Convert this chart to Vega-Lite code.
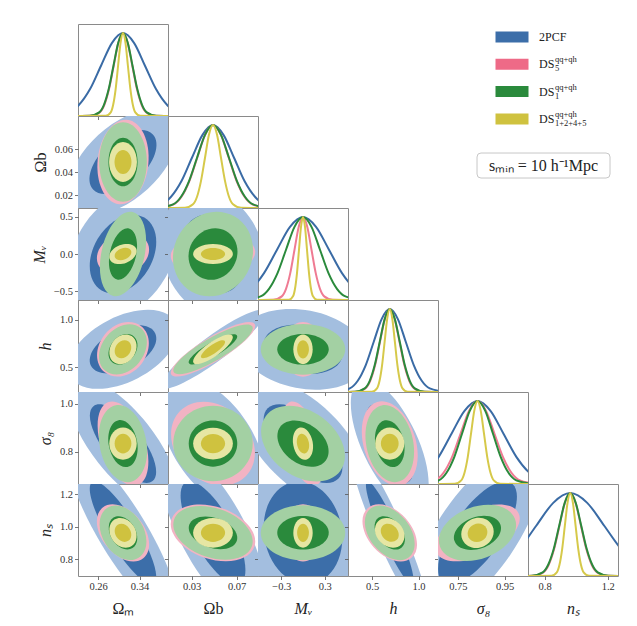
{
"$schema":"https://vega.github.io/schema/vega-lite/v6.json",
"background":"white",
"padding":{"left":30,"top":23,"right":5,"bottom":5},
"spacing":0,
"bounds":"flush",
"columns":6,
"config":{
 "view":{"stroke":"#8a8a8a","strokeWidth":1},
 "axis":{"grid":false,"domain":false,"tickColor":"#555","tickSize":3.5,"tickWidth":0.8,"labelFont":"Liberation Serif","labelFontSize":10.5,"labelColor":"#333","labelPadding":2,"titleFont":"Liberation Serif","titleFontSize":16,"titleFontWeight":"normal","titleFontStyle":"italic","titleColor":"#222"},
 "axisX":{"titlePadding":8},
 "axisY":{"titlePadding":6},
 "range":{"symbol":["M-1,0A1,0.15,0,1,1,1,0A1,0.15,0,1,1,-1,0Z","M-1,0A1,0.2,0,1,1,1,0A1,0.2,0,1,1,-1,0Z","M-1,0A1,0.25,0,1,1,1,0A1,0.25,0,1,1,-1,0Z","M-1,0A1,0.3,0,1,1,1,0A1,0.3,0,1,1,-1,0Z","M-1,0A1,0.35,0,1,1,1,0A1,0.35,0,1,1,-1,0Z","M-1,0A1,0.4,0,1,1,1,0A1,0.4,0,1,1,-1,0Z","M-1,0A1,0.45,0,1,1,1,0A1,0.45,0,1,1,-1,0Z","M-1,0A1,0.5,0,1,1,1,0A1,0.5,0,1,1,-1,0Z","M-1,0A1,0.55,0,1,1,1,0A1,0.55,0,1,1,-1,0Z","M-1,0A1,0.6,0,1,1,1,0A1,0.6,0,1,1,-1,0Z","M-1,0A1,0.65,0,1,1,1,0A1,0.65,0,1,1,-1,0Z","M-1,0A1,0.7,0,1,1,1,0A1,0.7,0,1,1,-1,0Z","M-1,0A1,0.75,0,1,1,1,0A1,0.75,0,1,1,-1,0Z","M-1,0A1,0.8,0,1,1,1,0A1,0.8,0,1,1,-1,0Z","M-1,0A1,0.85,0,1,1,1,0A1,0.85,0,1,1,-1,0Z","M-1,0A1,0.9,0,1,1,1,0A1,0.9,0,1,1,-1,0Z","M-1,0A1,0.95,0,1,1,1,0A1,0.95,0,1,1,-1,0Z"]}
},
"datasets":{
"leg":[
 {"item":"a","k":"2PCF 68%","main":"2PCF","sub":"","sup":""},
 {"item":"b","k":"DS5 68%","main":"DS","sub":"5","sup":"qq+qh"},
 {"item":"c","k":"DS1 68%","main":"DS","sub":"1","sup":"qq+qh"},
 {"item":"d","k":"DSc 68%","main":"DS","sub":"1+2+4+5","sup":"qq+qh"}
],
"blank":[{"b":1}],
"ell":[
 {"p":"r1c0","k":"2PCF 95%","x":0.308,"y":0.049,"len":1.479,"ar":0.55,"ang":-42.6},
 {"p":"r1c0","k":"2PCF 68%","x":0.308,"y":0.049,"len":0.902,"ar":0.55,"ang":-42.6},
 {"p":"r1c0","k":"DS5 95%","x":0.308,"y":0.049,"len":0.941,"ar":0.6,"ang":-84.4},
 {"p":"r1c0","k":"DS5 68%","x":0.308,"y":0.049,"len":0.574,"ar":0.6,"ang":-84.4},
 {"p":"r1c0","k":"DS1 95%","x":0.308,"y":0.049,"len":0.883,"ar":0.6,"ang":-90},
 {"p":"r1c0","k":"DS1 68%","x":0.308,"y":0.049,"len":0.539,"ar":0.6,"ang":-90},
 {"p":"r1c0","k":"DSc 95%","x":0.308,"y":0.049,"len":0.442,"ar":0.7,"ang":-90},
 {"p":"r1c0","k":"DSc 68%","x":0.308,"y":0.049,"len":0.269,"ar":0.7,"ang":-90},
 {"p":"r2c0","k":"2PCF 95%","x":0.308,"y":0,"len":1.539,"ar":0.7,"ang":-59.6},
 {"p":"r2c0","k":"2PCF 68%","x":0.308,"y":0,"len":0.938,"ar":0.7,"ang":-59.6},
 {"p":"r2c0","k":"DS5 95%","x":0.308,"y":0,"len":0.598,"ar":0.75,"ang":-21.6},
 {"p":"r2c0","k":"DS5 68%","x":0.308,"y":0,"len":0.364,"ar":0.75,"ang":-21.6},
 {"p":"r2c0","k":"DS1 95%","x":0.308,"y":0,"len":0.957,"ar":0.5,"ang":-77},
 {"p":"r2c0","k":"DS1 68%","x":0.308,"y":0,"len":0.583,"ar":0.5,"ang":-77},
 {"p":"r2c0","k":"DSc 95%","x":0.308,"y":0,"len":0.317,"ar":0.65,"ang":-21.4},
 {"p":"r2c0","k":"DSc 68%","x":0.308,"y":0,"len":0.193,"ar":0.65,"ang":-21.4},
 {"p":"r2c1","k":"2PCF 95%","x":0.049,"y":0,"len":1.481,"ar":0.75,"ang":68.6},
 {"p":"r2c1","k":"2PCF 68%","x":0.049,"y":0,"len":0.902,"ar":0.75,"ang":68.6},
 {"p":"r2c1","k":"DS5 95%","x":0.049,"y":0,"len":0.94,"ar":0.5,"ang":-3.8},
 {"p":"r2c1","k":"DS5 68%","x":0.049,"y":0,"len":0.573,"ar":0.5,"ang":-3.8},
 {"p":"r2c1","k":"DS1 95%","x":0.049,"y":0,"len":0.963,"ar":0.9,"ang":-60.6},
 {"p":"r2c1","k":"DS1 68%","x":0.049,"y":0,"len":0.588,"ar":0.9,"ang":-60.6},
 {"p":"r2c1","k":"DSc 95%","x":0.049,"y":0,"len":0.442,"ar":0.5,"ang":0},
 {"p":"r2c1","k":"DSc 68%","x":0.049,"y":0,"len":0.269,"ar":0.5,"ang":0},
 {"p":"r3c0","k":"2PCF 95%","x":0.308,"y":0.69,"len":1.313,"ar":0.55,"ang":-27.1},
 {"p":"r3c0","k":"2PCF 68%","x":0.308,"y":0.69,"len":0.8,"ar":0.55,"ang":-27.1},
 {"p":"r3c0","k":"DS5 95%","x":0.308,"y":0.69,"len":0.652,"ar":0.8,"ang":-51.6},
 {"p":"r3c0","k":"DS5 68%","x":0.308,"y":0.69,"len":0.398,"ar":0.8,"ang":-51.6},
 {"p":"r3c0","k":"DS1 95%","x":0.308,"y":0.69,"len":0.616,"ar":0.75,"ang":-49.9},
 {"p":"r3c0","k":"DS1 68%","x":0.308,"y":0.69,"len":0.374,"ar":0.75,"ang":-49.9},
 {"p":"r3c0","k":"DSc 95%","x":0.308,"y":0.69,"len":0.351,"ar":0.8,"ang":-56.8},
 {"p":"r3c0","k":"DSc 68%","x":0.308,"y":0.69,"len":0.213,"ar":0.8,"ang":-56.8},
 {"p":"r3c1","k":"2PCF 95%","x":0.049,"y":0.69,"len":1.423,"ar":0.2,"ang":-36.5},
 {"p":"r3c1","k":"2PCF 68%","x":0.049,"y":0.69,"len":0.868,"ar":0.2,"ang":-36.5},
 {"p":"r3c1","k":"DS5 95%","x":0.049,"y":0.69,"len":1.083,"ar":0.25,"ang":-31.1},
 {"p":"r3c1","k":"DS5 68%","x":0.049,"y":0.69,"len":0.66,"ar":0.25,"ang":-31.1},
 {"p":"r3c1","k":"DS1 95%","x":0.049,"y":0.69,"len":1.01,"ar":0.25,"ang":-30.1},
 {"p":"r3c1","k":"DS1 68%","x":0.049,"y":0.69,"len":0.616,"ar":0.25,"ang":-30.1},
 {"p":"r3c1","k":"DSc 95%","x":0.049,"y":0.69,"len":0.527,"ar":0.3,"ang":-35},
 {"p":"r3c1","k":"DSc 68%","x":0.049,"y":0.69,"len":0.321,"ar":0.3,"ang":-35},
 {"p":"r3c2","k":"2PCF 95%","x":0,"y":0.69,"len":1.452,"ar":0.6,"ang":10.8},
 {"p":"r3c2","k":"2PCF 68%","x":0,"y":0.69,"len":0.886,"ar":0.6,"ang":10.8},
 {"p":"r3c2","k":"DS5 95%","x":0,"y":0.69,"len":0.608,"ar":0.75,"ang":-90},
 {"p":"r3c2","k":"DS5 68%","x":0,"y":0.69,"len":0.37,"ar":0.75,"ang":-90},
 {"p":"r3c2","k":"DS1 95%","x":0,"y":0.69,"len":0.939,"ar":0.6,"ang":0},
 {"p":"r3c2","k":"DS1 68%","x":0,"y":0.69,"len":0.572,"ar":0.6,"ang":0},
 {"p":"r3c2","k":"DSc 95%","x":0,"y":0.69,"len":0.331,"ar":0.65,"ang":-90},
 {"p":"r3c2","k":"DSc 68%","x":0,"y":0.69,"len":0.202,"ar":0.65,"ang":-90},
 {"p":"r4c0","k":"2PCF 95%","x":0.308,"y":0.834,"len":1.739,"ar":0.4,"ang":51.7},
 {"p":"r4c0","k":"2PCF 68%","x":0.308,"y":0.834,"len":1.06,"ar":0.4,"ang":51.7},
 {"p":"r4c0","k":"DS5 95%","x":0.308,"y":0.834,"len":0.979,"ar":0.5,"ang":70.7},
 {"p":"r4c0","k":"DS5 68%","x":0.308,"y":0.834,"len":0.597,"ar":0.5,"ang":70.7},
 {"p":"r4c0","k":"DS1 95%","x":0.308,"y":0.834,"len":0.866,"ar":0.6,"ang":79.3},
 {"p":"r4c0","k":"DS1 68%","x":0.308,"y":0.834,"len":0.528,"ar":0.6,"ang":79.3},
 {"p":"r4c0","k":"DSc 95%","x":0.308,"y":0.834,"len":0.359,"ar":0.85,"ang":-90},
 {"p":"r4c0","k":"DSc 68%","x":0.308,"y":0.834,"len":0.219,"ar":0.85,"ang":-90},
 {"p":"r4c1","k":"2PCF 95%","x":0.049,"y":0.834,"len":1.616,"ar":0.55,"ang":56.7},
 {"p":"r4c1","k":"2PCF 68%","x":0.049,"y":0.834,"len":0.984,"ar":0.55,"ang":56.7},
 {"p":"r4c1","k":"DS5 95%","x":0.049,"y":0.834,"len":1.029,"ar":0.8,"ang":45},
 {"p":"r4c1","k":"DS5 68%","x":0.049,"y":0.834,"len":0.627,"ar":0.8,"ang":45},
 {"p":"r4c1","k":"DS1 95%","x":0.049,"y":0.834,"len":0.883,"ar":0.95,"ang":0},
 {"p":"r4c1","k":"DS1 68%","x":0.049,"y":0.834,"len":0.539,"ar":0.95,"ang":0},
 {"p":"r4c1","k":"DSc 95%","x":0.049,"y":0.834,"len":0.442,"ar":0.8,"ang":0},
 {"p":"r4c1","k":"DSc 68%","x":0.049,"y":0.834,"len":0.269,"ar":0.8,"ang":0},
 {"p":"r4c2","k":"2PCF 95%","x":0,"y":0.834,"len":1.817,"ar":0.5,"ang":45},
 {"p":"r4c2","k":"2PCF 68%","x":0,"y":0.834,"len":1.108,"ar":0.5,"ang":45},
 {"p":"r4c2","k":"DS5 95%","x":0,"y":0.834,"len":0.973,"ar":0.4,"ang":73.2},
 {"p":"r4c2","k":"DS5 68%","x":0,"y":0.834,"len":0.593,"ar":0.4,"ang":73.2},
 {"p":"r4c2","k":"DS1 95%","x":0,"y":0.834,"len":1.029,"ar":0.7,"ang":36.4},
 {"p":"r4c2","k":"DS1 68%","x":0,"y":0.834,"len":0.628,"ar":0.7,"ang":36.4},
 {"p":"r4c2","k":"DSc 95%","x":0,"y":0.834,"len":0.363,"ar":0.6,"ang":79.2},
 {"p":"r4c2","k":"DSc 68%","x":0,"y":0.834,"len":0.221,"ar":0.6,"ang":79.2},
 {"p":"r4c3","k":"2PCF 95%","x":0.69,"y":0.834,"len":1.554,"ar":0.4,"ang":65},
 {"p":"r4c3","k":"2PCF 68%","x":0.69,"y":0.834,"len":0.948,"ar":0.4,"ang":65},
 {"p":"r4c3","k":"DS5 95%","x":0.69,"y":0.834,"len":0.966,"ar":0.6,"ang":73.1},
 {"p":"r4c3","k":"DS5 68%","x":0.69,"y":0.834,"len":0.589,"ar":0.6,"ang":73.1},
 {"p":"r4c3","k":"DS1 95%","x":0.69,"y":0.834,"len":0.868,"ar":0.6,"ang":78.1},
 {"p":"r4c3","k":"DS1 68%","x":0.69,"y":0.834,"len":0.529,"ar":0.6,"ang":78.1},
 {"p":"r4c3","k":"DSc 95%","x":0.69,"y":0.834,"len":0.359,"ar":0.9,"ang":-90},
 {"p":"r4c3","k":"DSc 68%","x":0.69,"y":0.834,"len":0.219,"ar":0.9,"ang":-90},
 {"p":"r5c0","k":"2PCF 95%","x":0.308,"y":0.9624,"len":2.167,"ar":0.25,"ang":58.9},
 {"p":"r5c0","k":"2PCF 68%","x":0.308,"y":0.9624,"len":1.321,"ar":0.25,"ang":58.9},
 {"p":"r5c0","k":"DS5 95%","x":0.308,"y":0.9624,"len":0.722,"ar":0.65,"ang":51.4},
 {"p":"r5c0","k":"DS5 68%","x":0.308,"y":0.9624,"len":0.44,"ar":0.65,"ang":51.4},
 {"p":"r5c0","k":"DS1 95%","x":0.308,"y":0.9624,"len":0.654,"ar":0.7,"ang":58.1},
 {"p":"r5c0","k":"DS1 68%","x":0.308,"y":0.9624,"len":0.399,"ar":0.7,"ang":58.1},
 {"p":"r5c0","k":"DSc 95%","x":0.308,"y":0.9624,"len":0.351,"ar":0.8,"ang":56.8},
 {"p":"r5c0","k":"DSc 68%","x":0.308,"y":0.9624,"len":0.213,"ar":0.8,"ang":56.8},
 {"p":"r5c1","k":"2PCF 95%","x":0.049,"y":0.9624,"len":2.098,"ar":0.35,"ang":61.9},
 {"p":"r5c1","k":"2PCF 68%","x":0.049,"y":0.9624,"len":1.279,"ar":0.35,"ang":61.9},
 {"p":"r5c1","k":"DS5 95%","x":0.049,"y":0.9624,"len":0.97,"ar":0.6,"ang":18.4},
 {"p":"r5c1","k":"DS5 68%","x":0.049,"y":0.9624,"len":0.591,"ar":0.6,"ang":18.4},
 {"p":"r5c1","k":"DS1 95%","x":0.049,"y":0.9624,"len":0.914,"ar":0.6,"ang":19},
 {"p":"r5c1","k":"DS1 68%","x":0.049,"y":0.9624,"len":0.558,"ar":0.6,"ang":19},
 {"p":"r5c1","k":"DSc 95%","x":0.049,"y":0.9624,"len":0.442,"ar":0.75,"ang":0},
 {"p":"r5c1","k":"DSc 68%","x":0.049,"y":0.9624,"len":0.269,"ar":0.75,"ang":0},
 {"p":"r5c2","k":"2PCF 95%","x":0,"y":0.9624,"len":1.89,"ar":0.75,"ang":79.9},
 {"p":"r5c2","k":"2PCF 68%","x":0,"y":0.9624,"len":1.152,"ar":0.75,"ang":79.9},
 {"p":"r5c2","k":"DS5 95%","x":0,"y":0.9624,"len":0.636,"ar":0.75,"ang":-90},
 {"p":"r5c2","k":"DS5 68%","x":0,"y":0.9624,"len":0.387,"ar":0.75,"ang":-90},
 {"p":"r5c2","k":"DS1 95%","x":0,"y":0.9624,"len":0.939,"ar":0.65,"ang":0},
 {"p":"r5c2","k":"DS1 68%","x":0,"y":0.9624,"len":0.572,"ar":0.65,"ang":0},
 {"p":"r5c2","k":"DSc 95%","x":0,"y":0.9624,"len":0.331,"ar":0.65,"ang":-90},
 {"p":"r5c2","k":"DSc 68%","x":0,"y":0.9624,"len":0.202,"ar":0.65,"ang":-90},
 {"p":"r5c3","k":"2PCF 95%","x":0.69,"y":0.9624,"len":2.044,"ar":0.15,"ang":66.3},
 {"p":"r5c3","k":"2PCF 68%","x":0.69,"y":0.9624,"len":1.247,"ar":0.15,"ang":66.3},
 {"p":"r5c3","k":"DS5 95%","x":0.69,"y":0.9624,"len":0.736,"ar":0.65,"ang":48.2},
 {"p":"r5c3","k":"DS5 68%","x":0.69,"y":0.9624,"len":0.449,"ar":0.65,"ang":48.2},
 {"p":"r5c3","k":"DS1 95%","x":0.69,"y":0.9624,"len":0.689,"ar":0.65,"ang":51.7},
 {"p":"r5c3","k":"DS1 68%","x":0.69,"y":0.9624,"len":0.42,"ar":0.65,"ang":51.7},
 {"p":"r5c3","k":"DSc 95%","x":0.69,"y":0.9624,"len":0.363,"ar":0.8,"ang":45},
 {"p":"r5c3","k":"DSc 68%","x":0.69,"y":0.9624,"len":0.221,"ar":0.8,"ang":45},
 {"p":"r5c4","k":"2PCF 95%","x":0.834,"y":0.9624,"len":2.194,"ar":0.4,"ang":-55.6},
 {"p":"r5c4","k":"2PCF 68%","x":0.834,"y":0.9624,"len":1.338,"ar":0.4,"ang":-55.6},
 {"p":"r5c4","k":"DS5 95%","x":0.834,"y":0.9624,"len":1.012,"ar":0.5,"ang":-25.6},
 {"p":"r5c4","k":"DS5 68%","x":0.834,"y":0.9624,"len":0.617,"ar":0.5,"ang":-25.6},
 {"p":"r5c4","k":"DS1 95%","x":0.834,"y":0.9624,"len":0.889,"ar":0.65,"ang":-20.3},
 {"p":"r5c4","k":"DS1 68%","x":0.834,"y":0.9624,"len":0.542,"ar":0.65,"ang":-20.3},
 {"p":"r5c4","k":"DSc 95%","x":0.834,"y":0.9624,"len":0.367,"ar":0.9,"ang":-25.6},
 {"p":"r5c4","k":"DSc 68%","x":0.834,"y":0.9624,"len":0.223,"ar":0.9,"ang":-25.6}
],
"crv":[
 {"p":"Om","ds":"2PCF","x":0.1593,"d":0.0022},{"p":"Om","ds":"2PCF","x":0.2018,"d":0.0439},{"p":"Om","ds":"2PCF","x":0.223,"d":0.1353},{"p":"Om","ds":"2PCF","x":0.2443,"d":0.3247},{"p":"Om","ds":"2PCF","x":0.2655,"d":0.6065},{"p":"Om","ds":"2PCF","x":0.2868,"d":0.8825},{"p":"Om","ds":"2PCF","x":0.308,"d":1},{"p":"Om","ds":"2PCF","x":0.3293,"d":0.8825},{"p":"Om","ds":"2PCF","x":0.3505,"d":0.6065},{"p":"Om","ds":"2PCF","x":0.3718,"d":0.3247},{"p":"Om","ds":"2PCF","x":0.393,"d":0.1353},{"p":"Om","ds":"2PCF","x":0.4143,"d":0.0439},{"p":"Om","ds":"2PCF","x":0.4568,"d":0.0022},
 {"p":"Om","ds":"DS5","x":0.221,"d":0},{"p":"Om","ds":"DS5","x":0.245,"d":0.0022},{"p":"Om","ds":"DS5","x":0.263,"d":0.0439},{"p":"Om","ds":"DS5","x":0.272,"d":0.1353},{"p":"Om","ds":"DS5","x":0.281,"d":0.3247},{"p":"Om","ds":"DS5","x":0.29,"d":0.6065},{"p":"Om","ds":"DS5","x":0.299,"d":0.8825},{"p":"Om","ds":"DS5","x":0.308,"d":1},{"p":"Om","ds":"DS5","x":0.317,"d":0.8825},{"p":"Om","ds":"DS5","x":0.326,"d":0.6065},{"p":"Om","ds":"DS5","x":0.335,"d":0.3247},{"p":"Om","ds":"DS5","x":0.344,"d":0.1353},{"p":"Om","ds":"DS5","x":0.353,"d":0.0439},{"p":"Om","ds":"DS5","x":0.371,"d":0.0022},{"p":"Om","ds":"DS5","x":0.395,"d":0},
 {"p":"Om","ds":"DS1","x":0.221,"d":0},{"p":"Om","ds":"DS1","x":0.2436,"d":0.0022},{"p":"Om","ds":"DS1","x":0.262,"d":0.0439},{"p":"Om","ds":"DS1","x":0.2712,"d":0.1353},{"p":"Om","ds":"DS1","x":0.2804,"d":0.3247},{"p":"Om","ds":"DS1","x":0.2896,"d":0.6065},{"p":"Om","ds":"DS1","x":0.2988,"d":0.8825},{"p":"Om","ds":"DS1","x":0.308,"d":1},{"p":"Om","ds":"DS1","x":0.3172,"d":0.8825},{"p":"Om","ds":"DS1","x":0.3264,"d":0.6065},{"p":"Om","ds":"DS1","x":0.3356,"d":0.3247},{"p":"Om","ds":"DS1","x":0.3448,"d":0.1353},{"p":"Om","ds":"DS1","x":0.354,"d":0.0439},{"p":"Om","ds":"DS1","x":0.3724,"d":0.0022},{"p":"Om","ds":"DS1","x":0.395,"d":0},
 {"p":"Om","ds":"DSc","x":0.221,"d":0},{"p":"Om","ds":"DSc","x":0.2748,"d":0.0022},{"p":"Om","ds":"DSc","x":0.2843,"d":0.0439},{"p":"Om","ds":"DSc","x":0.289,"d":0.1353},{"p":"Om","ds":"DSc","x":0.2938,"d":0.3247},{"p":"Om","ds":"DSc","x":0.2985,"d":0.6065},{"p":"Om","ds":"DSc","x":0.3033,"d":0.8825},{"p":"Om","ds":"DSc","x":0.308,"d":1},{"p":"Om","ds":"DSc","x":0.3128,"d":0.8825},{"p":"Om","ds":"DSc","x":0.3175,"d":0.6065},{"p":"Om","ds":"DSc","x":0.3223,"d":0.3247},{"p":"Om","ds":"DSc","x":0.327,"d":0.1353},{"p":"Om","ds":"DSc","x":0.3318,"d":0.0439},{"p":"Om","ds":"DSc","x":0.3413,"d":0.0022},{"p":"Om","ds":"DSc","x":0.395,"d":0},
 {"p":"Ob","ds":"2PCF","x":-0.0163,"d":0.0022},{"p":"Ob","ds":"2PCF","x":0.0023,"d":0.0439},{"p":"Ob","ds":"2PCF","x":0.0117,"d":0.1353},{"p":"Ob","ds":"2PCF","x":0.021,"d":0.3247},{"p":"Ob","ds":"2PCF","x":0.0303,"d":0.6065},{"p":"Ob","ds":"2PCF","x":0.0397,"d":0.8825},{"p":"Ob","ds":"2PCF","x":0.049,"d":1},{"p":"Ob","ds":"2PCF","x":0.0583,"d":0.8825},{"p":"Ob","ds":"2PCF","x":0.0677,"d":0.6065},{"p":"Ob","ds":"2PCF","x":0.077,"d":0.3247},{"p":"Ob","ds":"2PCF","x":0.0863,"d":0.1353},{"p":"Ob","ds":"2PCF","x":0.0957,"d":0.0439},{"p":"Ob","ds":"2PCF","x":0.1143,"d":0.0022},
 {"p":"Ob","ds":"DS5","x":0.0,"d":0.0022},{"p":"Ob","ds":"DS5","x":0.014,"d":0.0439},{"p":"Ob","ds":"DS5","x":0.021,"d":0.1353},{"p":"Ob","ds":"DS5","x":0.028,"d":0.3247},{"p":"Ob","ds":"DS5","x":0.035,"d":0.6065},{"p":"Ob","ds":"DS5","x":0.042,"d":0.8825},{"p":"Ob","ds":"DS5","x":0.049,"d":1},{"p":"Ob","ds":"DS5","x":0.056,"d":0.8825},{"p":"Ob","ds":"DS5","x":0.063,"d":0.6065},{"p":"Ob","ds":"DS5","x":0.07,"d":0.3247},{"p":"Ob","ds":"DS5","x":0.077,"d":0.1353},{"p":"Ob","ds":"DS5","x":0.084,"d":0.0439},{"p":"Ob","ds":"DS5","x":0.098,"d":0.0022},
 {"p":"Ob","ds":"DS1","x":-0.0008,"d":0.0022},{"p":"Ob","ds":"DS1","x":0.0135,"d":0.0439},{"p":"Ob","ds":"DS1","x":0.0206,"d":0.1353},{"p":"Ob","ds":"DS1","x":0.0277,"d":0.3247},{"p":"Ob","ds":"DS1","x":0.0348,"d":0.6065},{"p":"Ob","ds":"DS1","x":0.0419,"d":0.8825},{"p":"Ob","ds":"DS1","x":0.049,"d":1},{"p":"Ob","ds":"DS1","x":0.0561,"d":0.8825},{"p":"Ob","ds":"DS1","x":0.0632,"d":0.6065},{"p":"Ob","ds":"DS1","x":0.0703,"d":0.3247},{"p":"Ob","ds":"DS1","x":0.0774,"d":0.1353},{"p":"Ob","ds":"DS1","x":0.0846,"d":0.0439},{"p":"Ob","ds":"DS1","x":0.0988,"d":0.0022},
 {"p":"Ob","ds":"DSc","x":0.009,"d":0},{"p":"Ob","ds":"DSc","x":0.0241,"d":0.0022},{"p":"Ob","ds":"DSc","x":0.0312,"d":0.0439},{"p":"Ob","ds":"DSc","x":0.0348,"d":0.1353},{"p":"Ob","ds":"DSc","x":0.0383,"d":0.3247},{"p":"Ob","ds":"DSc","x":0.0419,"d":0.6065},{"p":"Ob","ds":"DSc","x":0.0454,"d":0.8825},{"p":"Ob","ds":"DSc","x":0.049,"d":1},{"p":"Ob","ds":"DSc","x":0.0526,"d":0.8825},{"p":"Ob","ds":"DSc","x":0.0561,"d":0.6065},{"p":"Ob","ds":"DSc","x":0.0597,"d":0.3247},{"p":"Ob","ds":"DSc","x":0.0632,"d":0.1353},{"p":"Ob","ds":"DSc","x":0.0668,"d":0.0439},{"p":"Ob","ds":"DSc","x":0.0739,"d":0.0022},{"p":"Ob","ds":"DSc","x":0.089,"d":0},
 {"p":"Mn","ds":"2PCF","x":-0.895,"d":0.0439},{"p":"Mn","ds":"2PCF","x":-0.716,"d":0.1353},{"p":"Mn","ds":"2PCF","x":-0.537,"d":0.3247},{"p":"Mn","ds":"2PCF","x":-0.358,"d":0.6065},{"p":"Mn","ds":"2PCF","x":-0.179,"d":0.8825},{"p":"Mn","ds":"2PCF","x":0,"d":1},{"p":"Mn","ds":"2PCF","x":0.179,"d":0.8825},{"p":"Mn","ds":"2PCF","x":0.358,"d":0.6065},{"p":"Mn","ds":"2PCF","x":0.537,"d":0.3247},{"p":"Mn","ds":"2PCF","x":0.716,"d":0.1353},{"p":"Mn","ds":"2PCF","x":0.895,"d":0.0439},
 {"p":"Mn","ds":"DS5","x":-0.62,"d":0},{"p":"Mn","ds":"DS5","x":-0.4095,"d":0.0022},{"p":"Mn","ds":"DS5","x":-0.2925,"d":0.0439},{"p":"Mn","ds":"DS5","x":-0.234,"d":0.1353},{"p":"Mn","ds":"DS5","x":-0.1755,"d":0.3247},{"p":"Mn","ds":"DS5","x":-0.117,"d":0.6065},{"p":"Mn","ds":"DS5","x":-0.0585,"d":0.8825},{"p":"Mn","ds":"DS5","x":0,"d":1},{"p":"Mn","ds":"DS5","x":0.0585,"d":0.8825},{"p":"Mn","ds":"DS5","x":0.117,"d":0.6065},{"p":"Mn","ds":"DS5","x":0.1755,"d":0.3247},{"p":"Mn","ds":"DS5","x":0.234,"d":0.1353},{"p":"Mn","ds":"DS5","x":0.2925,"d":0.0439},{"p":"Mn","ds":"DS5","x":0.4095,"d":0.0022},{"p":"Mn","ds":"DS5","x":0.62,"d":0},
 {"p":"Mn","ds":"DS1","x":-0.819,"d":0.0022},{"p":"Mn","ds":"DS1","x":-0.585,"d":0.0439},{"p":"Mn","ds":"DS1","x":-0.468,"d":0.1353},{"p":"Mn","ds":"DS1","x":-0.351,"d":0.3247},{"p":"Mn","ds":"DS1","x":-0.234,"d":0.6065},{"p":"Mn","ds":"DS1","x":-0.117,"d":0.8825},{"p":"Mn","ds":"DS1","x":0,"d":1},{"p":"Mn","ds":"DS1","x":0.117,"d":0.8825},{"p":"Mn","ds":"DS1","x":0.234,"d":0.6065},{"p":"Mn","ds":"DS1","x":0.351,"d":0.3247},{"p":"Mn","ds":"DS1","x":0.468,"d":0.1353},{"p":"Mn","ds":"DS1","x":0.585,"d":0.0439},{"p":"Mn","ds":"DS1","x":0.819,"d":0.0022},
 {"p":"Mn","ds":"DSc","x":-0.62,"d":0},{"p":"Mn","ds":"DSc","x":-0.1929,"d":0.0022},{"p":"Mn","ds":"DSc","x":-0.1378,"d":0.0439},{"p":"Mn","ds":"DSc","x":-0.1102,"d":0.1353},{"p":"Mn","ds":"DSc","x":-0.0827,"d":0.3247},{"p":"Mn","ds":"DSc","x":-0.0551,"d":0.6065},{"p":"Mn","ds":"DSc","x":-0.0276,"d":0.8825},{"p":"Mn","ds":"DSc","x":0,"d":1},{"p":"Mn","ds":"DSc","x":0.0276,"d":0.8825},{"p":"Mn","ds":"DSc","x":0.0551,"d":0.6065},{"p":"Mn","ds":"DSc","x":0.0827,"d":0.3247},{"p":"Mn","ds":"DSc","x":0.1102,"d":0.1353},{"p":"Mn","ds":"DSc","x":0.1378,"d":0.0439},{"p":"Mn","ds":"DSc","x":0.1929,"d":0.0022},{"p":"Mn","ds":"DSc","x":0.62,"d":0},
 {"p":"h","ds":"2PCF","x":0.0866,"d":0.0022},{"p":"h","ds":"2PCF","x":0.259,"d":0.0439},{"p":"h","ds":"2PCF","x":0.3452,"d":0.1353},{"p":"h","ds":"2PCF","x":0.4314,"d":0.3247},{"p":"h","ds":"2PCF","x":0.5176,"d":0.6065},{"p":"h","ds":"2PCF","x":0.6038,"d":0.8825},{"p":"h","ds":"2PCF","x":0.69,"d":1},{"p":"h","ds":"2PCF","x":0.7762,"d":0.8825},{"p":"h","ds":"2PCF","x":0.8624,"d":0.6065},{"p":"h","ds":"2PCF","x":0.9486,"d":0.3247},{"p":"h","ds":"2PCF","x":1.0348,"d":0.1353},{"p":"h","ds":"2PCF","x":1.121,"d":0.0439},{"p":"h","ds":"2PCF","x":1.2934,"d":0.0022},
 {"p":"h","ds":"DS5","x":0.24,"d":0},{"p":"h","ds":"DS5","x":0.3225,"d":0.0022},{"p":"h","ds":"DS5","x":0.4275,"d":0.0439},{"p":"h","ds":"DS5","x":0.48,"d":0.1353},{"p":"h","ds":"DS5","x":0.5325,"d":0.3247},{"p":"h","ds":"DS5","x":0.585,"d":0.6065},{"p":"h","ds":"DS5","x":0.6375,"d":0.8825},{"p":"h","ds":"DS5","x":0.69,"d":1},{"p":"h","ds":"DS5","x":0.7425,"d":0.8825},{"p":"h","ds":"DS5","x":0.795,"d":0.6065},{"p":"h","ds":"DS5","x":0.8475,"d":0.3247},{"p":"h","ds":"DS5","x":0.9,"d":0.1353},{"p":"h","ds":"DS5","x":0.9525,"d":0.0439},{"p":"h","ds":"DS5","x":1.0575,"d":0.0022},{"p":"h","ds":"DS5","x":1.21,"d":0},
 {"p":"h","ds":"DS1","x":0.24,"d":0},{"p":"h","ds":"DS1","x":0.3127,"d":0.0022},{"p":"h","ds":"DS1","x":0.4205,"d":0.0439},{"p":"h","ds":"DS1","x":0.4744,"d":0.1353},{"p":"h","ds":"DS1","x":0.5283,"d":0.3247},{"p":"h","ds":"DS1","x":0.5822,"d":0.6065},{"p":"h","ds":"DS1","x":0.6361,"d":0.8825},{"p":"h","ds":"DS1","x":0.69,"d":1},{"p":"h","ds":"DS1","x":0.7439,"d":0.8825},{"p":"h","ds":"DS1","x":0.7978,"d":0.6065},{"p":"h","ds":"DS1","x":0.8517,"d":0.3247},{"p":"h","ds":"DS1","x":0.9056,"d":0.1353},{"p":"h","ds":"DS1","x":0.9595,"d":0.0439},{"p":"h","ds":"DS1","x":1.0673,"d":0.0022},{"p":"h","ds":"DS1","x":1.21,"d":0},
 {"p":"h","ds":"DSc","x":0.24,"d":0},{"p":"h","ds":"DSc","x":0.4975,"d":0.0022},{"p":"h","ds":"DSc","x":0.5525,"d":0.0439},{"p":"h","ds":"DSc","x":0.58,"d":0.1353},{"p":"h","ds":"DSc","x":0.6075,"d":0.3247},{"p":"h","ds":"DSc","x":0.635,"d":0.6065},{"p":"h","ds":"DSc","x":0.6625,"d":0.8825},{"p":"h","ds":"DSc","x":0.69,"d":1},{"p":"h","ds":"DSc","x":0.7175,"d":0.8825},{"p":"h","ds":"DSc","x":0.745,"d":0.6065},{"p":"h","ds":"DSc","x":0.7725,"d":0.3247},{"p":"h","ds":"DSc","x":0.8,"d":0.1353},{"p":"h","ds":"DSc","x":0.8275,"d":0.0439},{"p":"h","ds":"DSc","x":0.8825,"d":0.0022},{"p":"h","ds":"DSc","x":1.21,"d":0},
 {"p":"s8","ds":"2PCF","x":0.556,"d":0.0439},{"p":"s8","ds":"2PCF","x":0.6116,"d":0.1353},{"p":"s8","ds":"2PCF","x":0.6672,"d":0.3247},{"p":"s8","ds":"2PCF","x":0.7228,"d":0.6065},{"p":"s8","ds":"2PCF","x":0.7784,"d":0.8825},{"p":"s8","ds":"2PCF","x":0.834,"d":1},{"p":"s8","ds":"2PCF","x":0.8896,"d":0.8825},{"p":"s8","ds":"2PCF","x":0.9452,"d":0.6065},{"p":"s8","ds":"2PCF","x":1.0008,"d":0.3247},{"p":"s8","ds":"2PCF","x":1.0564,"d":0.1353},{"p":"s8","ds":"2PCF","x":1.112,"d":0.0439},
 {"p":"s8","ds":"DS5","x":0.5796,"d":0.0022},{"p":"s8","ds":"DS5","x":0.6523,"d":0.0439},{"p":"s8","ds":"DS5","x":0.6886,"d":0.1353},{"p":"s8","ds":"DS5","x":0.725,"d":0.3247},{"p":"s8","ds":"DS5","x":0.7613,"d":0.6065},{"p":"s8","ds":"DS5","x":0.7977,"d":0.8825},{"p":"s8","ds":"DS5","x":0.834,"d":1},{"p":"s8","ds":"DS5","x":0.8704,"d":0.8825},{"p":"s8","ds":"DS5","x":0.9067,"d":0.6065},{"p":"s8","ds":"DS5","x":0.9431,"d":0.3247},{"p":"s8","ds":"DS5","x":0.9794,"d":0.1353},{"p":"s8","ds":"DS5","x":1.0158,"d":0.0439},{"p":"s8","ds":"DS5","x":1.0885,"d":0.0022},
 {"p":"s8","ds":"DS1","x":0.602,"d":0.0022},{"p":"s8","ds":"DS1","x":0.6683,"d":0.0439},{"p":"s8","ds":"DS1","x":0.7014,"d":0.1353},{"p":"s8","ds":"DS1","x":0.7346,"d":0.3247},{"p":"s8","ds":"DS1","x":0.7677,"d":0.6065},{"p":"s8","ds":"DS1","x":0.8009,"d":0.8825},{"p":"s8","ds":"DS1","x":0.834,"d":1},{"p":"s8","ds":"DS1","x":0.8672,"d":0.8825},{"p":"s8","ds":"DS1","x":0.9003,"d":0.6065},{"p":"s8","ds":"DS1","x":0.9335,"d":0.3247},{"p":"s8","ds":"DS1","x":0.9666,"d":0.1353},{"p":"s8","ds":"DS1","x":0.9998,"d":0.0439},{"p":"s8","ds":"DS1","x":1.0661,"d":0.0022},
 {"p":"s8","ds":"DSc","x":0.665,"d":0},{"p":"s8","ds":"DSc","x":0.7367,"d":0.0022},{"p":"s8","ds":"DSc","x":0.7645,"d":0.0439},{"p":"s8","ds":"DSc","x":0.7784,"d":0.1353},{"p":"s8","ds":"DSc","x":0.7923,"d":0.3247},{"p":"s8","ds":"DSc","x":0.8062,"d":0.6065},{"p":"s8","ds":"DSc","x":0.8201,"d":0.8825},{"p":"s8","ds":"DSc","x":0.834,"d":1},{"p":"s8","ds":"DSc","x":0.8479,"d":0.8825},{"p":"s8","ds":"DSc","x":0.8618,"d":0.6065},{"p":"s8","ds":"DSc","x":0.8757,"d":0.3247},{"p":"s8","ds":"DSc","x":0.8896,"d":0.1353},{"p":"s8","ds":"DSc","x":0.9035,"d":0.0439},{"p":"s8","ds":"DSc","x":0.9313,"d":0.0022},{"p":"s8","ds":"DSc","x":1.05,"d":0},
 {"p":"ns","ds":"2PCF","x":0.5318,"d":0.1353},{"p":"ns","ds":"2PCF","x":0.6394,"d":0.3247},{"p":"ns","ds":"2PCF","x":0.7471,"d":0.6065},{"p":"ns","ds":"2PCF","x":0.8548,"d":0.8825},{"p":"ns","ds":"2PCF","x":0.9624,"d":1},{"p":"ns","ds":"2PCF","x":1.0701,"d":0.8825},{"p":"ns","ds":"2PCF","x":1.1777,"d":0.6065},{"p":"ns","ds":"2PCF","x":1.2854,"d":0.3247},{"p":"ns","ds":"2PCF","x":1.393,"d":0.1353},
 {"p":"ns","ds":"DS5","x":0.695,"d":0},{"p":"ns","ds":"DS5","x":0.7244,"d":0.0022},{"p":"ns","ds":"DS5","x":0.7924,"d":0.0439},{"p":"ns","ds":"DS5","x":0.8264,"d":0.1353},{"p":"ns","ds":"DS5","x":0.8604,"d":0.3247},{"p":"ns","ds":"DS5","x":0.8944,"d":0.6065},{"p":"ns","ds":"DS5","x":0.9284,"d":0.8825},{"p":"ns","ds":"DS5","x":0.9624,"d":1},{"p":"ns","ds":"DS5","x":0.9964,"d":0.8825},{"p":"ns","ds":"DS5","x":1.0304,"d":0.6065},{"p":"ns","ds":"DS5","x":1.0644,"d":0.3247},{"p":"ns","ds":"DS5","x":1.0984,"d":0.1353},{"p":"ns","ds":"DS5","x":1.1324,"d":0.0439},{"p":"ns","ds":"DS5","x":1.2004,"d":0.0022},{"p":"ns","ds":"DS5","x":1.265,"d":0},
 {"p":"ns","ds":"DS1","x":0.695,"d":0},{"p":"ns","ds":"DS1","x":0.7185,"d":0.0022},{"p":"ns","ds":"DS1","x":0.7882,"d":0.0439},{"p":"ns","ds":"DS1","x":0.823,"d":0.1353},{"p":"ns","ds":"DS1","x":0.8579,"d":0.3247},{"p":"ns","ds":"DS1","x":0.8927,"d":0.6065},{"p":"ns","ds":"DS1","x":0.9276,"d":0.8825},{"p":"ns","ds":"DS1","x":0.9624,"d":1},{"p":"ns","ds":"DS1","x":0.9973,"d":0.8825},{"p":"ns","ds":"DS1","x":1.0321,"d":0.6065},{"p":"ns","ds":"DS1","x":1.067,"d":0.3247},{"p":"ns","ds":"DS1","x":1.1018,"d":0.1353},{"p":"ns","ds":"DS1","x":1.1367,"d":0.0439},{"p":"ns","ds":"DS1","x":1.2064,"d":0.0022},{"p":"ns","ds":"DS1","x":1.265,"d":0},
 {"p":"ns","ds":"DSc","x":0.695,"d":0},{"p":"ns","ds":"DSc","x":0.8434,"d":0.0022},{"p":"ns","ds":"DSc","x":0.8774,"d":0.0439},{"p":"ns","ds":"DSc","x":0.8944,"d":0.1353},{"p":"ns","ds":"DSc","x":0.9114,"d":0.3247},{"p":"ns","ds":"DSc","x":0.9284,"d":0.6065},{"p":"ns","ds":"DSc","x":0.9454,"d":0.8825},{"p":"ns","ds":"DSc","x":0.9624,"d":1},{"p":"ns","ds":"DSc","x":0.9794,"d":0.8825},{"p":"ns","ds":"DSc","x":0.9964,"d":0.6065},{"p":"ns","ds":"DSc","x":1.0134,"d":0.3247},{"p":"ns","ds":"DSc","x":1.0304,"d":0.1353},{"p":"ns","ds":"DSc","x":1.0474,"d":0.0439},{"p":"ns","ds":"DSc","x":1.0814,"d":0.0022},{"p":"ns","ds":"DSc","x":1.265,"d":0}
]
},
"concat":[
  {"width":90,"height":92,"data":{"name":"crv"},"transform":[{"filter":{"field":"p","equal":"Om"}}],"mark":{"type":"line","clip":true,"strokeWidth":2,"interpolate":"monotone"},
   "encoding":{"x":{"field":"x","type":"quantitative","scale":{"domain":[0.221,0.395],"nice":false,"zero":false},"axis":{"values":[0.26,0.34],"labels":false,"title":null}},
    "y":{"field":"d","type":"quantitative","scale":{"domain":[0,1.11],"nice":false,"zero":false},"axis":null},
    "color":{"field":"ds","type":"nominal","scale":{"domain":["2PCF","DS5","DS1","DSc"],"range":["#3a6ba5","#ef7b93","#2a8a3c","#d6c94a"]},"legend":null}}},
  {"width":90,"height":92,"view":{"stroke":null},
   "layer":[
    {"data":{"name":"leg"},"mark":{"type":"point","filled":true,"opacity":1,"strokeWidth":0,"shape":"M-1,-0.333H1V0.333H-1Z","size":1089},
     "encoding":{"x":{"datum":"sw","type":"nominal","scale":{"type":"point","domain":["sw","txt"],"range":[344,371],"padding":0},"axis":null},
      "y":{"field":"item","type":"nominal","scale":{"type":"point","domain":["a","b","c","d","gap","e"],"range":[13,149.5],"padding":0},"axis":null},
      "fill":{"field":"k","type":"nominal","scale":{"domain":["2PCF 95%","2PCF 68%","DS5 95%","DS5 68%","DS1 95%","DS1 68%","DSc 95%","DSc 68%"],"range":["#a3bedf","#3c6ea9","#f2b3c3","#ee6a87","#a3d0a3","#2a8a3c","#e6e6a3","#cfc23f"]},"legend":null}}},
    {"data":{"name":"leg"},"mark":{"type":"text","align":"left","baseline":"middle","fontSize":12,"font":"Liberation Serif","color":"#222"},
     "encoding":{"x":{"datum":"txt","type":"nominal"},"y":{"field":"item","type":"nominal"},"text":{"field":"main"}}},
    {"data":{"name":"leg"},"mark":{"type":"text","align":"left","baseline":"middle","fontSize":8.5,"font":"Liberation Serif","color":"#222","dx":16,"dy":4},
     "encoding":{"x":{"datum":"txt","type":"nominal"},"y":{"field":"item","type":"nominal"},"text":{"field":"sub"}}},
    {"data":{"name":"leg"},"mark":{"type":"text","align":"left","baseline":"middle","fontSize":8.5,"font":"Liberation Serif","color":"#222","dx":16,"dy":-5},
     "encoding":{"x":{"datum":"txt","type":"nominal"},"y":{"field":"item","type":"nominal"},"text":{"field":"sup"}}},
    {"data":{"values":[{"item":"e","note":"sₘᵢₙ = 10 h⁻¹Mpc"}]},"mark":{"type":"point","filled":true,"fill":"white","stroke":"#c8c8c8","strokeWidth":1,"opacity":1,"shape":"M-0.872,-0.308H1.008Q1.068,-0.308,1.068,-0.248V0.008Q1.068,0.068,1.008,0.068H-0.872Q-0.932,0.068,-0.932,0.008V-0.248Q-0.932,-0.308,-0.872,-0.308Z","size":17689},
     "encoding":{"x":{"datum":"txt","type":"nominal"},"y":{"field":"item","type":"nominal"}}},
    {"data":{"values":[{"item":"e","note":"sₘᵢₙ = 10 h⁻¹Mpc"}]},"mark":{"type":"text","align":"center","baseline":"middle","fontSize":16,"font":"Liberation Serif","color":"#222","dx":4.5,"dy":-8},
     "encoding":{"x":{"datum":"txt","type":"nominal"},"y":{"field":"item","type":"nominal"},"text":{"field":"note"}}}
   ]},
  {"width":90,"height":92,"view":{"stroke":null},"data":{"name":"blank"},"mark":{"type":"point","opacity":0},"encoding":{}},
  {"width":90,"height":92,"view":{"stroke":null},"data":{"name":"blank"},"mark":{"type":"point","opacity":0},"encoding":{}},
  {"width":90,"height":92,"view":{"stroke":null},"data":{"name":"blank"},"mark":{"type":"point","opacity":0},"encoding":{}},
  {"width":90,"height":92,"view":{"stroke":null},"data":{"name":"blank"},"mark":{"type":"point","opacity":0},"encoding":{}},

  {"width":90,"height":92,"data":{"name":"ell"},"transform":[{"filter":{"field":"p","equal":"r1c0"}}],"mark":{"type":"point","filled":true,"opacity":1,"strokeWidth":0,"clip":true},
   "encoding":{"x":{"field":"x","type":"quantitative","scale":{"domain":[0.221,0.395],"nice":false,"zero":false},"axis":{"values":[0.26,0.34],"labels":false,"title":null}},
    "y":{"field":"y","type":"quantitative","scale":{"domain":[0.009,0.089],"nice":false,"zero":false},"axis":{"values":[0.02,0.04,0.06],"format":".2f","title":"Ωb","titleFontStyle":"normal"}},
    "fill":{"field":"k","type":"nominal","scale":{"domain":["2PCF 95%","2PCF 68%","DS5 95%","DS5 68%","DS1 95%","DS1 68%","DSc 95%","DSc 68%"],"range":["#a3bedf","#3c6ea9","#f2b3c3","#ee6a87","#a3d0a3","#2a8a3c","#e6e6a3","#cfc23f"]},"legend":null},
    "shape":{"field":"ar","type":"nominal","scale":{"domain":[0.15,0.2,0.25,0.3,0.35,0.4,0.45,0.5,0.55,0.6,0.65,0.7,0.75,0.8,0.85,0.9,0.95]},"legend":null},
    "size":{"field":"len","type":"quantitative","scale":{"type":"pow","exponent":2,"domain":[0,2.5],"range":[0,50625],"nice":false},"legend":null},
    "angle":{"field":"ang","type":"quantitative","scale":null}}},
  {"width":90,"height":92,"data":{"name":"crv"},"transform":[{"filter":{"field":"p","equal":"Ob"}}],"mark":{"type":"line","clip":true,"strokeWidth":2,"interpolate":"monotone"},
   "encoding":{"x":{"field":"x","type":"quantitative","scale":{"domain":[0.009,0.089],"nice":false,"zero":false},"axis":{"values":[0.03,0.07],"labels":false,"title":null}},
    "y":{"field":"d","type":"quantitative","scale":{"domain":[0,1.11],"nice":false,"zero":false},"axis":null},
    "color":{"field":"ds","type":"nominal","legend":null}}},
  {"width":90,"height":92,"view":{"stroke":null},"data":{"name":"blank"},"mark":{"type":"point","opacity":0},"encoding":{}},
  {"width":90,"height":92,"view":{"stroke":null},"data":{"name":"blank"},"mark":{"type":"point","opacity":0},"encoding":{}},
  {"width":90,"height":92,"view":{"stroke":null},"data":{"name":"blank"},"mark":{"type":"point","opacity":0},"encoding":{}},
  {"width":90,"height":92,"view":{"stroke":null},"data":{"name":"blank"},"mark":{"type":"point","opacity":0},"encoding":{}},

  {"width":90,"height":92,"data":{"name":"ell"},"transform":[{"filter":{"field":"p","equal":"r2c0"}}],"mark":{"type":"point","filled":true,"opacity":1,"strokeWidth":0,"clip":true},
   "encoding":{"x":{"field":"x","type":"quantitative","scale":{"domain":[0.221,0.395],"nice":false,"zero":false},"axis":{"values":[0.26,0.34],"labels":false,"title":null}},
    "y":{"field":"y","type":"quantitative","scale":{"domain":[-0.62,0.62],"nice":false,"zero":false},"axis":{"values":[-0.5,0,0.5],"format":".1f","title":"Mᵥ"}},
    "fill":{"field":"k","type":"nominal","legend":null},"shape":{"field":"ar","type":"nominal","legend":null},"size":{"field":"len","type":"quantitative","legend":null},"angle":{"field":"ang","type":"quantitative","scale":null}}},
  {"width":90,"height":92,"data":{"name":"ell"},"transform":[{"filter":{"field":"p","equal":"r2c1"}}],"mark":{"type":"point","filled":true,"opacity":1,"strokeWidth":0,"clip":true},
   "encoding":{"x":{"field":"x","type":"quantitative","scale":{"domain":[0.009,0.089],"nice":false,"zero":false},"axis":{"values":[0.03,0.07],"labels":false,"title":null}},
    "y":{"field":"y","type":"quantitative","scale":{"domain":[-0.62,0.62],"nice":false,"zero":false},"axis":{"values":[-0.5,0,0.5],"labels":false,"title":null}},
    "fill":{"field":"k","type":"nominal","legend":null},"shape":{"field":"ar","type":"nominal","legend":null},"size":{"field":"len","type":"quantitative","legend":null},"angle":{"field":"ang","type":"quantitative","scale":null}}},
  {"width":90,"height":92,"data":{"name":"crv"},"transform":[{"filter":{"field":"p","equal":"Mn"}}],"mark":{"type":"line","clip":true,"strokeWidth":2,"interpolate":"monotone"},
   "encoding":{"x":{"field":"x","type":"quantitative","scale":{"domain":[-0.62,0.62],"nice":false,"zero":false},"axis":{"values":[-0.3,0.3],"labels":false,"title":null}},
    "y":{"field":"d","type":"quantitative","scale":{"domain":[0,1.11],"nice":false,"zero":false},"axis":null},
    "color":{"field":"ds","type":"nominal","legend":null}}},
  {"width":90,"height":92,"view":{"stroke":null},"data":{"name":"blank"},"mark":{"type":"point","opacity":0},"encoding":{}},
  {"width":90,"height":92,"view":{"stroke":null},"data":{"name":"blank"},"mark":{"type":"point","opacity":0},"encoding":{}},
  {"width":90,"height":92,"view":{"stroke":null},"data":{"name":"blank"},"mark":{"type":"point","opacity":0},"encoding":{}},

  {"width":90,"height":92,"data":{"name":"ell"},"transform":[{"filter":{"field":"p","equal":"r3c0"}}],"mark":{"type":"point","filled":true,"opacity":1,"strokeWidth":0,"clip":true},
   "encoding":{"x":{"field":"x","type":"quantitative","scale":{"domain":[0.221,0.395],"nice":false,"zero":false},"axis":{"values":[0.26,0.34],"labels":false,"title":null}},
    "y":{"field":"y","type":"quantitative","scale":{"domain":[0.24,1.21],"nice":false,"zero":false},"axis":{"values":[0.5,1.0],"format":".1f","title":"h"}},
    "fill":{"field":"k","type":"nominal","legend":null},"shape":{"field":"ar","type":"nominal","legend":null},"size":{"field":"len","type":"quantitative","legend":null},"angle":{"field":"ang","type":"quantitative","scale":null}}},
  {"width":90,"height":92,"data":{"name":"ell"},"transform":[{"filter":{"field":"p","equal":"r3c1"}}],"mark":{"type":"point","filled":true,"opacity":1,"strokeWidth":0,"clip":true},
   "encoding":{"x":{"field":"x","type":"quantitative","scale":{"domain":[0.009,0.089],"nice":false,"zero":false},"axis":{"values":[0.03,0.07],"labels":false,"title":null}},
    "y":{"field":"y","type":"quantitative","scale":{"domain":[0.24,1.21],"nice":false,"zero":false},"axis":{"values":[0.5,1.0],"labels":false,"title":null}},
    "fill":{"field":"k","type":"nominal","legend":null},"shape":{"field":"ar","type":"nominal","legend":null},"size":{"field":"len","type":"quantitative","legend":null},"angle":{"field":"ang","type":"quantitative","scale":null}}},
  {"width":90,"height":92,"data":{"name":"ell"},"transform":[{"filter":{"field":"p","equal":"r3c2"}}],"mark":{"type":"point","filled":true,"opacity":1,"strokeWidth":0,"clip":true},
   "encoding":{"x":{"field":"x","type":"quantitative","scale":{"domain":[-0.62,0.62],"nice":false,"zero":false},"axis":{"values":[-0.3,0.3],"labels":false,"title":null}},
    "y":{"field":"y","type":"quantitative","scale":{"domain":[0.24,1.21],"nice":false,"zero":false},"axis":{"values":[0.5,1.0],"labels":false,"title":null}},
    "fill":{"field":"k","type":"nominal","legend":null},"shape":{"field":"ar","type":"nominal","legend":null},"size":{"field":"len","type":"quantitative","legend":null},"angle":{"field":"ang","type":"quantitative","scale":null}}},
  {"width":90,"height":92,"data":{"name":"crv"},"transform":[{"filter":{"field":"p","equal":"h"}}],"mark":{"type":"line","clip":true,"strokeWidth":2,"interpolate":"monotone"},
   "encoding":{"x":{"field":"x","type":"quantitative","scale":{"domain":[0.24,1.21],"nice":false,"zero":false},"axis":{"values":[0.5,1.0],"labels":false,"title":null}},
    "y":{"field":"d","type":"quantitative","scale":{"domain":[0,1.11],"nice":false,"zero":false},"axis":null},
    "color":{"field":"ds","type":"nominal","legend":null}}},
  {"width":90,"height":92,"view":{"stroke":null},"data":{"name":"blank"},"mark":{"type":"point","opacity":0},"encoding":{}},
  {"width":90,"height":92,"view":{"stroke":null},"data":{"name":"blank"},"mark":{"type":"point","opacity":0},"encoding":{}},

  {"width":90,"height":92,"data":{"name":"ell"},"transform":[{"filter":{"field":"p","equal":"r4c0"}}],"mark":{"type":"point","filled":true,"opacity":1,"strokeWidth":0,"clip":true},
   "encoding":{"x":{"field":"x","type":"quantitative","scale":{"domain":[0.221,0.395],"nice":false,"zero":false},"axis":{"values":[0.26,0.34],"labels":false,"title":null}},
    "y":{"field":"y","type":"quantitative","scale":{"domain":[0.665,1.05],"nice":false,"zero":false},"axis":{"values":[0.8,1.0],"format":".1f","title":"σ₈"}},
    "fill":{"field":"k","type":"nominal","legend":null},"shape":{"field":"ar","type":"nominal","legend":null},"size":{"field":"len","type":"quantitative","legend":null},"angle":{"field":"ang","type":"quantitative","scale":null}}},
  {"width":90,"height":92,"data":{"name":"ell"},"transform":[{"filter":{"field":"p","equal":"r4c1"}}],"mark":{"type":"point","filled":true,"opacity":1,"strokeWidth":0,"clip":true},
   "encoding":{"x":{"field":"x","type":"quantitative","scale":{"domain":[0.009,0.089],"nice":false,"zero":false},"axis":{"values":[0.03,0.07],"labels":false,"title":null}},
    "y":{"field":"y","type":"quantitative","scale":{"domain":[0.665,1.05],"nice":false,"zero":false},"axis":{"values":[0.8,1.0],"labels":false,"title":null}},
    "fill":{"field":"k","type":"nominal","legend":null},"shape":{"field":"ar","type":"nominal","legend":null},"size":{"field":"len","type":"quantitative","legend":null},"angle":{"field":"ang","type":"quantitative","scale":null}}},
  {"width":90,"height":92,"data":{"name":"ell"},"transform":[{"filter":{"field":"p","equal":"r4c2"}}],"mark":{"type":"point","filled":true,"opacity":1,"strokeWidth":0,"clip":true},
   "encoding":{"x":{"field":"x","type":"quantitative","scale":{"domain":[-0.62,0.62],"nice":false,"zero":false},"axis":{"values":[-0.3,0.3],"labels":false,"title":null}},
    "y":{"field":"y","type":"quantitative","scale":{"domain":[0.665,1.05],"nice":false,"zero":false},"axis":{"values":[0.8,1.0],"labels":false,"title":null}},
    "fill":{"field":"k","type":"nominal","legend":null},"shape":{"field":"ar","type":"nominal","legend":null},"size":{"field":"len","type":"quantitative","legend":null},"angle":{"field":"ang","type":"quantitative","scale":null}}},
  {"width":90,"height":92,"data":{"name":"ell"},"transform":[{"filter":{"field":"p","equal":"r4c3"}}],"mark":{"type":"point","filled":true,"opacity":1,"strokeWidth":0,"clip":true},
   "encoding":{"x":{"field":"x","type":"quantitative","scale":{"domain":[0.24,1.21],"nice":false,"zero":false},"axis":{"values":[0.5,1.0],"labels":false,"title":null}},
    "y":{"field":"y","type":"quantitative","scale":{"domain":[0.665,1.05],"nice":false,"zero":false},"axis":{"values":[0.8,1.0],"labels":false,"title":null}},
    "fill":{"field":"k","type":"nominal","legend":null},"shape":{"field":"ar","type":"nominal","legend":null},"size":{"field":"len","type":"quantitative","legend":null},"angle":{"field":"ang","type":"quantitative","scale":null}}},
  {"width":90,"height":92,"data":{"name":"crv"},"transform":[{"filter":{"field":"p","equal":"s8"}}],"mark":{"type":"line","clip":true,"strokeWidth":2,"interpolate":"monotone"},
   "encoding":{"x":{"field":"x","type":"quantitative","scale":{"domain":[0.665,1.05],"nice":false,"zero":false},"axis":{"values":[0.75,0.95],"labels":false,"title":null}},
    "y":{"field":"d","type":"quantitative","scale":{"domain":[0,1.11],"nice":false,"zero":false},"axis":null},
    "color":{"field":"ds","type":"nominal","legend":null}}},
  {"width":90,"height":92,"view":{"stroke":null},"data":{"name":"blank"},"mark":{"type":"point","opacity":0},"encoding":{}},

  {"width":90,"height":92,"data":{"name":"ell"},"transform":[{"filter":{"field":"p","equal":"r5c0"}}],"mark":{"type":"point","filled":true,"opacity":1,"strokeWidth":0,"clip":true},
   "encoding":{"x":{"field":"x","type":"quantitative","scale":{"domain":[0.221,0.395],"nice":false,"zero":false},"axis":{"values":[0.26,0.34],"format":".2f","title":"Ωₘ","titleFontStyle":"normal"}},
    "y":{"field":"y","type":"quantitative","scale":{"domain":[0.695,1.265],"nice":false,"zero":false},"axis":{"values":[0.8,1.0,1.2],"format":".1f","title":"nₛ"}},
    "fill":{"field":"k","type":"nominal","legend":null},"shape":{"field":"ar","type":"nominal","legend":null},"size":{"field":"len","type":"quantitative","legend":null},"angle":{"field":"ang","type":"quantitative","scale":null}}},
  {"width":90,"height":92,"data":{"name":"ell"},"transform":[{"filter":{"field":"p","equal":"r5c1"}}],"mark":{"type":"point","filled":true,"opacity":1,"strokeWidth":0,"clip":true},
   "encoding":{"x":{"field":"x","type":"quantitative","scale":{"domain":[0.009,0.089],"nice":false,"zero":false},"axis":{"values":[0.03,0.07],"format":".2f","title":"Ωb","titleFontStyle":"normal"}},
    "y":{"field":"y","type":"quantitative","scale":{"domain":[0.695,1.265],"nice":false,"zero":false},"axis":{"values":[0.8,1.0,1.2],"labels":false,"title":null}},
    "fill":{"field":"k","type":"nominal","legend":null},"shape":{"field":"ar","type":"nominal","legend":null},"size":{"field":"len","type":"quantitative","legend":null},"angle":{"field":"ang","type":"quantitative","scale":null}}},
  {"width":90,"height":92,"data":{"name":"ell"},"transform":[{"filter":{"field":"p","equal":"r5c2"}}],"mark":{"type":"point","filled":true,"opacity":1,"strokeWidth":0,"clip":true},
   "encoding":{"x":{"field":"x","type":"quantitative","scale":{"domain":[-0.62,0.62],"nice":false,"zero":false},"axis":{"values":[-0.3,0.3],"format":".1f","title":"Mᵥ"}},
    "y":{"field":"y","type":"quantitative","scale":{"domain":[0.695,1.265],"nice":false,"zero":false},"axis":{"values":[0.8,1.0,1.2],"labels":false,"title":null}},
    "fill":{"field":"k","type":"nominal","legend":null},"shape":{"field":"ar","type":"nominal","legend":null},"size":{"field":"len","type":"quantitative","legend":null},"angle":{"field":"ang","type":"quantitative","scale":null}}},
  {"width":90,"height":92,"data":{"name":"ell"},"transform":[{"filter":{"field":"p","equal":"r5c3"}}],"mark":{"type":"point","filled":true,"opacity":1,"strokeWidth":0,"clip":true},
   "encoding":{"x":{"field":"x","type":"quantitative","scale":{"domain":[0.24,1.21],"nice":false,"zero":false},"axis":{"values":[0.5,1.0],"format":".1f","title":"h"}},
    "y":{"field":"y","type":"quantitative","scale":{"domain":[0.695,1.265],"nice":false,"zero":false},"axis":{"values":[0.8,1.0,1.2],"labels":false,"title":null}},
    "fill":{"field":"k","type":"nominal","legend":null},"shape":{"field":"ar","type":"nominal","legend":null},"size":{"field":"len","type":"quantitative","legend":null},"angle":{"field":"ang","type":"quantitative","scale":null}}},
  {"width":90,"height":92,"data":{"name":"ell"},"transform":[{"filter":{"field":"p","equal":"r5c4"}}],"mark":{"type":"point","filled":true,"opacity":1,"strokeWidth":0,"clip":true},
   "encoding":{"x":{"field":"x","type":"quantitative","scale":{"domain":[0.665,1.05],"nice":false,"zero":false},"axis":{"values":[0.75,0.95],"format":".2f","title":"σ₈"}},
    "y":{"field":"y","type":"quantitative","scale":{"domain":[0.695,1.265],"nice":false,"zero":false},"axis":{"values":[0.8,1.0,1.2],"labels":false,"title":null}},
    "fill":{"field":"k","type":"nominal","legend":null},"shape":{"field":"ar","type":"nominal","legend":null},"size":{"field":"len","type":"quantitative","legend":null},"angle":{"field":"ang","type":"quantitative","scale":null}}},
  {"width":90,"height":92,"data":{"name":"crv"},"transform":[{"filter":{"field":"p","equal":"ns"}}],"mark":{"type":"line","clip":true,"strokeWidth":2,"interpolate":"monotone"},
   "encoding":{"x":{"field":"x","type":"quantitative","scale":{"domain":[0.695,1.265],"nice":false,"zero":false},"axis":{"values":[0.8,1.2],"format":".1f","title":"nₛ"}},
    "y":{"field":"d","type":"quantitative","scale":{"domain":[0,1.11],"nice":false,"zero":false},"axis":null},
    "color":{"field":"ds","type":"nominal","legend":null}}}
]
}
